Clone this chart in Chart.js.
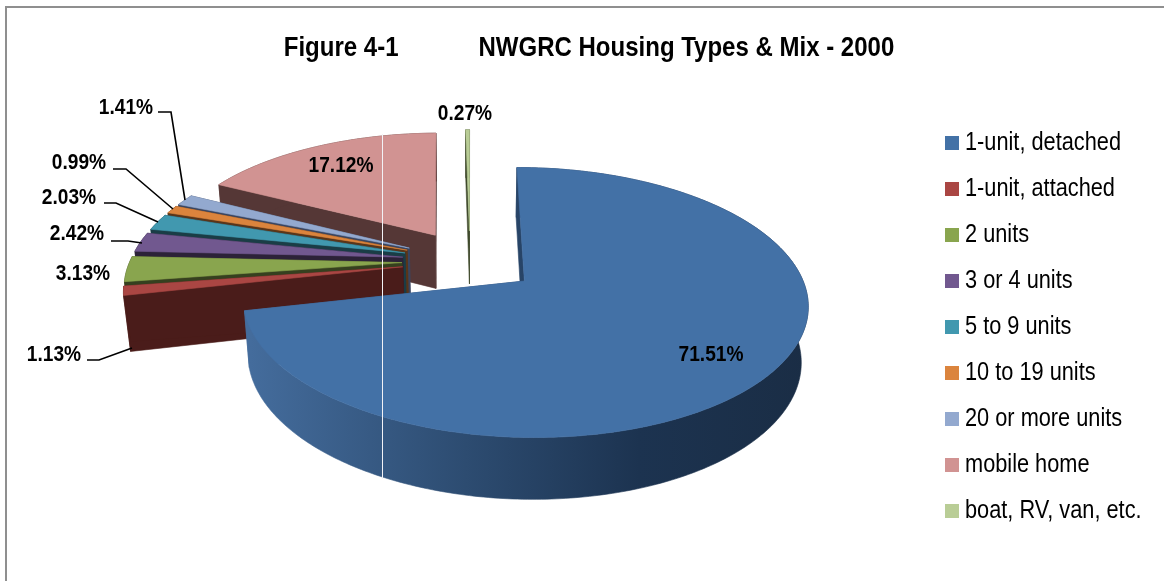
<!DOCTYPE html>
<html><head><meta charset="utf-8">
<style>html,body{margin:0;padding:0;background:#fff}canvas{display:block}</style>
<script src="https://cdn.jsdelivr.net/npm/chart.js@4/dist/chart.umd.min.js"></script>
</head><body><canvas id="c" width="1164" height="581"></canvas>
<script>
const categories = ['1-unit, detached','1-unit, attached','2 units','3 or 4 units','5 to 9 units','10 to 19 units','20 or more units','mobile home','boat, RV, van, etc.'];
const shares = [71.51,1.13,3.13,2.42,2.03,0.99,1.41,17.12,0.27];
const topColors = ['#4371A6','#AA4643','#89A54E','#71588F','#4198AF','#DB843D','#93A9CF','#D19392','#B9CD96'];
const wallColors = ['#2f4f75','#4a1c1a','#36401f','#2c2238','#1a3d46','#5a3519','#3a4560','#553736','#3f4a2c'];
const titleText = 'Figure 4-1            NWGRC Housing Types & Mix - 2000';

// camera for the tilted, exploded view
const VIEW = {cx:470, cy:261, k:272, a:125.3, p:0.155, e:0.25, d:55.5, q:0.02};
function project(X,Y,z){
  const w = 1 - VIEW.p*Y + VIEW.q*z;
  return [VIEW.cx + VIEW.k*X/w, VIEW.cy + (VIEW.a*Y + VIEW.d*z)/w];
}
const SQUEEZE = 0.87;
const labelSpots = [[711,355],[54,355],[83,274],[77,234],[69,198],[79,163],[126,108],[341,166],[465,114]];
const leaders = {1:[[87,360],[99,360],[132,348]],3:[[111,241],[128,241],[142,243]],4:[[104,203],[116,203],[158,222]],5:[[113,169],[126,169],[173,209]],6:[[158,112],[171,112],[185,200]]};
const legendLine = 11.2;

const pie3d = {
  id:'pie3d',
  afterLayout(chart){
    const c = chart.ctx;
    const tb = chart.titleBlock, lg = chart.legend;
    if(!tb._sq){
      tb._sq = true;
      const d = tb.draw;
      tb.draw = function(){
        const m = (tb.left+tb.right)/2;
        c.save(); c.setTransform(SQUEEZE,0,0,1,589-m*SQUEEZE,0);
        d.apply(tb,arguments); c.restore();
      };
    }
    if(!lg._sq){
      lg._sq = true;
      const d = lg.draw;
      lg.draw = function(){
        const x0 = lg.legendHitBoxes[0].left - legendLine/2;
        c.save(); c.setTransform(SQUEEZE,0,0,1,945-x0*SQUEEZE,0);
        d.apply(lg,arguments); c.restore();
      };
    }
  },
  beforeDraw(chart){
    const c = chart.ctx;
    c.save();
    c.fillStyle='#fff'; c.fillRect(0,0,chart.width,chart.height);
    c.strokeStyle='#8f8f8f'; c.lineWidth=2;
    c.beginPath(); c.moveTo(6,581); c.lineTo(6,7); c.lineTo(1164,7); c.stroke();
    c.restore();
  },
  beforeDatasetDraw(chart){
    const c = chart.ctx, meta = chart.getDatasetMeta(0);
    const items = meta.data.map((arc,i)=>{
      const s = arc.startAngle, t = arc.endAngle, m = (s+t)/2;
      return {i,s,t,ox:Math.cos(m)*VIEW.e,oy:Math.sin(m)*VIEW.e,key:Math.sin(m)};
    }).sort((u,v)=>u.key-v.key);
    for(const it of items){
      const rim=[], n=Math.max(2,Math.ceil((it.t-it.s)/0.015));
      for(let j=0;j<=n;j++){const an=it.s+(it.t-it.s)*j/n; rim.push([it.ox+Math.cos(an),it.oy+Math.sin(an)]);}
      const ap=[it.ox,it.oy];
      const poly=(pts,fill)=>{c.beginPath();pts.forEach((p,j)=>j?c.lineTo(p[0],p[1]):c.moveTo(p[0],p[1]));c.closePath();c.fillStyle=fill;c.fill();c.strokeStyle=fill;c.lineWidth=0.6;c.stroke();};
      let wall = wallColors[it.i];
      if(it.i===0){
        const g=c.createLinearGradient(250,0,806,0);
        g.addColorStop(0,'#446c9c');g.addColorStop(0.35,'#2f4f75');g.addColorStop(0.7,'#1c3350');g.addColorStop(1,'#1a2d45');
        wall=g;
      }
      const a0=project(ap[0],ap[1],0), a1=project(ap[0],ap[1],1);
      const f=rim[0], l=rim[rim.length-1];
      poly([a0,project(f[0],f[1],0),project(f[0],f[1],1),a1],wall);
      poly([a0,project(l[0],l[1],0),project(l[0],l[1],1),a1],wall);
      const side=rim.map(p=>project(p[0],p[1],0)).concat(rim.slice().reverse().map(p=>project(p[0],p[1],1)));
      poly(side,wall);
      poly([a0].concat(rim.map(p=>project(p[0],p[1],0))),topColors[it.i]);
    }
    return false;
  },
  afterDatasetsDraw(chart){
    const c = chart.ctx;
    c.save();
    c.strokeStyle='#f2f2f6'; c.lineWidth=1;
    c.beginPath(); c.moveTo(382.5,134); c.lineTo(382.5,479); c.stroke();
    c.strokeStyle='#000'; c.lineWidth=1.6;
    for(const k in leaders){
      c.beginPath(); leaders[k].forEach((p,j)=>j?c.lineTo(p[0],p[1]):c.moveTo(p[0],p[1])); c.stroke();
    }
    c.fillStyle='#000'; c.font='bold 22px "Liberation Sans"'; c.textAlign='center'; c.textBaseline='middle';
    shares.forEach((v,i)=>{
      c.save(); c.translate(labelSpots[i][0],labelSpots[i][1]); c.scale(SQUEEZE,1);
      c.fillText(v.toFixed(2)+'%',0,0); c.restore();
    });
    c.restore();
  }
};

new Chart(document.getElementById('c'),{
  type:'pie',
  data:{labels:categories,datasets:[{data:shares,backgroundColor:topColors,borderWidth:0}]},
  options:{
    responsive:false,animation:false,
    layout:{padding:0},
    plugins:{
      tooltip:{enabled:false},
      title:{display:true,text:titleText,color:'#000',font:{family:'"Liberation Sans"',size:27.6,weight:'bold'},padding:{top:31.5,bottom:45}},
      legend:{
        position:'right',align:'start',fullSize:false,
        labels:{
          color:'#000',font:{family:'"Liberation Sans"',size:25},padding:21,boxWidth:4.9,boxHeight:2.8,
          generateLabels(ch){
            return categories.map((t,i)=>({text:t,fillStyle:topColors[i],strokeStyle:topColors[i],lineWidth:legendLine,index:i,hidden:false}));
          }
        }
      }
    }
  },
  plugins:[pie3d]
});
</script></body></html>
